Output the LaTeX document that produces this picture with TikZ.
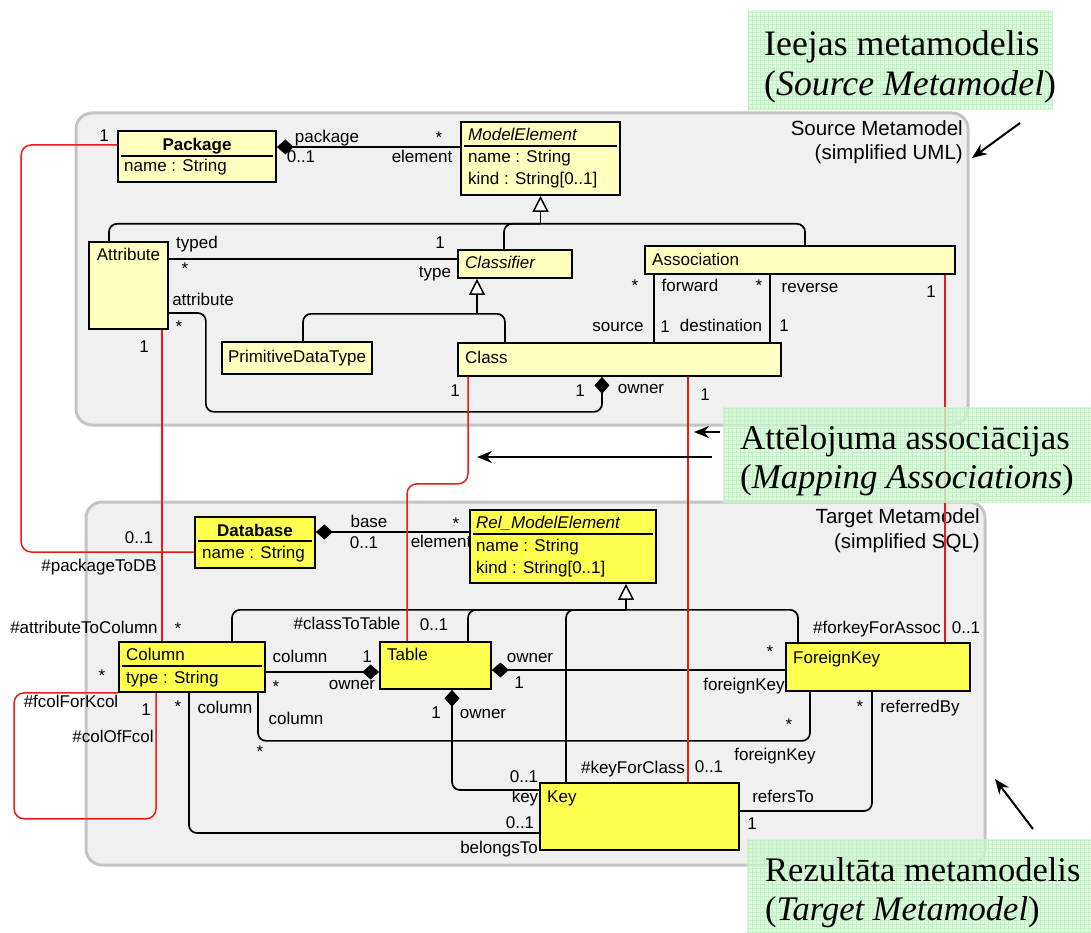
\documentclass[tikz,border=0pt]{standalone}
\usepackage{fontspec}
\setmainfont{Liberation Serif}
\setsansfont{Liberation Sans}
\usepackage{xcolor}
\usepackage{tikz}
\usetikzlibrary{arrows.meta}
\definecolor{panelfill}{HTML}{F0F0F0}
\definecolor{panelline}{HTML}{C4C4C4}
\definecolor{srcyellow}{HTML}{FFFFC0}
\definecolor{tgtyellow}{HTML}{FFFF50}
\definecolor{mapred}{HTML}{F01818}
\definecolor{notegreen}{HTML}{D4FAD4}
\definecolor{notegrid}{HTML}{B8ECB8}
\newcommand{\lblfont}{\sffamily\fontsize{17}{20}\selectfont}
\newcommand{\ttlfont}{\sffamily\fontsize{20.5}{24}\selectfont}
\newcommand{\notefont}{\rmfamily\fontsize{35}{40}\selectfont}
\tikzset{
    panel/.style={rectangle, draw=panelline, fill=panelfill, line width=3pt, rounded corners=16pt},
    srcclass/.style={rectangle, draw, line width=1.7pt, fill=srcyellow, inner sep=0pt},
    tgtclass/.style={srcclass, fill=tgtyellow},
    sepline/.style={line width=1.7pt},
    assoc/.style={line width=1.7pt, rounded corners=8pt},
    comp/.style={assoc, {Diamond[length=17pt, width=15pt]}-},
    gen/.style={assoc, -{Triangle[open, fill=white, length=16pt, width=16pt, line width=1.5pt]}},
    mapline/.style={draw=mapred, line width=1.5pt, rounded corners=10pt},
    lbl/.style={font=\lblfont, inner sep=0pt, anchor=base},
    txt/.style={lbl, anchor=base west},
    ttl/.style={font=\ttlfont, inner sep=0pt, anchor=base east},
    note/.style={rectangle, fill=notegreen, fill opacity=0.75, inner sep=0pt},
    notegridline/.style={draw=notegrid, draw opacity=0.7, line width=0.4pt, step=4pt},
    notetext/.style={font=\notefont, inner sep=0pt, anchor=base west},
    pointer/.style={line width=2pt, -{Stealth[length=15pt, width=12pt]}}
}
\begin{document}
\begin{tikzpicture}[x=1pt, y=-1pt]
    \useasboundingbox (0,0) rectangle (1091,933);

    \node (srcpanel) [panel, minimum width=892pt, minimum height=312pt] at (522,269) {};
    \node (tgtpanel) [panel, minimum width=899pt, minimum height=363pt] at (535.5,683.5) {};

    \node (pkg) [srcclass, minimum width=158pt, minimum height=51pt] at (197,156.5) {};
    \node (me) [srcclass, minimum width=159pt, minimum height=73pt] at (540.5,158.5) {};
    \node (attr) [srcclass, minimum width=79pt, minimum height=87pt] at (128.5,285.5) {};
    \node (clsf) [srcclass, minimum width=114pt, minimum height=28pt] at (515,264) {};
    \node (asn) [srcclass, minimum width=310pt, minimum height=28pt] at (800,260) {};
    \node (cls) [srcclass, minimum width=323pt, minimum height=33pt] at (619.5,359.5) {};
    \node (pdt) [srcclass, minimum width=150pt, minimum height=32pt] at (297,358) {};

    \node (db) [tgtclass, minimum width=120pt, minimum height=51pt] at (255,542.5) {};
    \node (rme) [tgtclass, minimum width=186pt, minimum height=73pt] at (563,546.5) {};
    \node (col) [tgtclass, minimum width=146pt, minimum height=50pt] at (192,667) {};
    \node (tbl) [tgtclass, minimum width=111pt, minimum height=47pt] at (435.5,665.5) {};
    \node (fk) [tgtclass, minimum width=184pt, minimum height=48pt] at (878,667) {};
    \node (key) [tgtclass, minimum width=199pt, minimum height=67pt] at (639.5,816.5) {};

    \draw [sepline] ([xshift=4pt,yshift=-26pt]pkg.north west) -- ([xshift=-4pt,yshift=-26pt]pkg.north east);
    \draw [sepline] ([xshift=4pt,yshift=-25pt]me.north west) -- ([xshift=-4pt,yshift=-25pt]me.north east);
    \draw [sepline] ([xshift=4pt,yshift=-25pt]db.north west) -- ([xshift=-4pt,yshift=-25pt]db.north east);
    \draw [sepline] ([xshift=4pt,yshift=-25pt]rme.north west) -- ([xshift=-4pt,yshift=-25pt]rme.north east);
    \draw [sepline] ([xshift=4pt,yshift=-25pt]col.north west) -- ([xshift=-4pt,yshift=-25pt]col.north east);

    \node (pkg-n) [lbl, font=\lblfont\bfseries] at (197,151) {Package};
    \node (pkg-a) [txt] at (124,172) {name : String};
    \node (me-n) [txt, font=\lblfont\itshape] at (468,141) {ModelElement};
    \node (me-a1) [txt] at (468,163) {name : String};
    \node (me-a2) [txt] at (468,185) {kind : String[0..1]};
    \node (attr-n) [lbl] at (128.5,260) {Attribute};
    \node (clsf-n) [txt, font=\lblfont\itshape] at (465,268) {Classifier};
    \node (asn-n) [txt] at (652,265) {Association};
    \node (cls-n) [txt] at (465,363) {Class};
    \node (pdt-n) [lbl] at (297,362) {PrimitiveDataType};
    \node (db-n) [lbl, font=\lblfont\bfseries] at (255,536) {Database};
    \node (db-a) [txt] at (202,558) {name : String};
    \node (rme-n) [txt, font=\lblfont\itshape] at (476,528) {Rel\_ModelElement};
    \node (rme-a1) [txt] at (476,551) {name : String};
    \node (rme-a2) [txt] at (476,573) {kind : String[0..1]};
    \node (col-n) [txt] at (126,660) {Column};
    \node (col-a) [txt] at (126,683) {type : String};
    \node (tbl-n) [txt] at (387,660) {Table};
    \node (fk-n) [txt] at (793,663) {ForeignKey};
    \node (key-n) [txt] at (547,802) {Key};

    \coordinate (mej) at ([yshift=-28pt]me.south);
    \coordinate (clj) at ([xshift=-38pt,yshift=-35pt]clsf.south);
    \coordinate (rmej) at ([xshift=63pt,yshift=-26pt]rme.south);

    \draw [comp] ([yshift=9.5pt]pkg.east) -- ([yshift=9.5pt]pkg.east -| me.west);
    \draw [gen] (mej) -- (me.south);
    \draw [assoc] ([xshift=-19.5pt]attr.north) |- (mej) -| ([xshift=5pt]asn.north);
    \draw [assoc] ([xshift=-11pt]clsf.north) |- (mej);
    \draw [gen] (clj) -- ([xshift=-38pt]clsf.south);
    \draw [assoc] ([xshift=6pt]pdt.north) |- (clj) -| ([xshift=-114.5pt]cls.north);
    \draw [assoc] ([yshift=5pt]clsf.west) -- ([yshift=5pt]clsf.west -| attr.east);
    \draw [comp] ([xshift=-17.5pt]cls.south) -- ++(0,35) -| ([xshift=37pt,yshift=-27.5pt]attr.east) -- ([yshift=-27.5pt]attr.east);
    \draw [assoc] ([xshift=-146pt]asn.south) -- ([xshift=-146pt]asn.south |- cls.north);
    \draw [assoc] ([xshift=-30pt]asn.south) -- ([xshift=-30pt]asn.south |- cls.north);

    \draw [comp] ([yshift=10.5pt]db.east) -- ([yshift=10.5pt]db.east -| rme.west);
    \draw [gen] (rmej) -- ([xshift=63pt]rme.south);
    \draw [assoc] ([xshift=40pt]col.north) |- (rmej) -| ([xshift=-80pt]fk.north);
    \draw [assoc] ([xshift=32.5pt]tbl.north) |- (rmej);
    \draw [assoc] ([xshift=-73.5pt]key.north) |- (rmej);
    \draw [comp] ([yshift=-6.5pt]tbl.west) -- ([yshift=-6.5pt]tbl.west -| col.east);
    \draw [comp] ([yshift=-4.5pt]tbl.east) -- ([yshift=-4.5pt]tbl.east -| fk.west);
    \draw [comp] ([xshift=16.5pt]tbl.south) |- ([yshift=26.5pt]key.west);
    \draw [assoc] ([xshift=66pt]col.south) -- ++(0,48) -| ([xshift=-68pt]fk.south);
    \draw [assoc] ([xshift=-3pt]col.south) |- ([yshift=-16.5pt]key.west);
    \draw [assoc] ([yshift=5.5pt]key.east) -| ([xshift=-6pt]fk.south);

    \node (l-pkg-elem-a) [lbl] at (327,143) {package};
    \node (l-pkg-elem-b) [lbl] at (301,163) {0..1};
    \node (l-pkg-elem-c) [lbl] at (439,144) {*};
    \node (l-pkg-elem-d) [lbl] at (422,163) {element};
    \node (l-typed-a) [lbl] at (197,248) {typed};
    \node (l-typed-b) [lbl] at (185,274) {*};
    \node (l-typed-c) [lbl] at (440,248) {1};
    \node (l-typed-d) [lbl] at (435,277) {type};
    \node (l-attrib-a) [lbl] at (203,305) {attribute};
    \node (l-attrib-b) [lbl] at (179,332) {*};
    \node (l-attrib-c) [lbl] at (580,396) {1};
    \node (l-attrib-d) [lbl] at (641,393) {owner};
    \node (l-fwd-a) [lbl] at (635,291) {*};
    \node (l-fwd-b) [lbl] at (690,291) {forward};
    \node (l-fwd-c) [lbl] at (618,331) {source};
    \node (l-fwd-d) [lbl] at (665,332) {1};
    \node (l-rev-a) [lbl] at (759,291) {*};
    \node (l-rev-b) [lbl] at (810,292) {reverse};
    \node (l-rev-c) [lbl] at (721,331) {destination};
    \node (l-rev-d) [lbl] at (784,331) {1};

    \node (l-base-a) [lbl] at (369,527) {base};
    \node (l-base-b) [lbl] at (364,548) {0..1};
    \node (l-base-c) [lbl] at (456,529) {*};
    \node (l-base-d) [lbl] at (441,547) {element};
    \node (l-colown-a) [lbl] at (300,662) {column};
    \node (l-colown-b) [lbl] at (276,692) {*};
    \node (l-colown-c) [lbl] at (367,662) {1};
    \node (l-colown-d) [lbl] at (352,689) {owner};
    \node (l-fkown-a) [lbl] at (530,662) {owner};
    \node (l-fkown-b) [lbl] at (519,688) {1};
    \node (l-fkown-c) [lbl] at (770,657) {*};
    \node (l-fkown-d) [lbl] at (744,690) {foreignKey};
    \node (l-keyown-a) [lbl] at (436,718) {1};
    \node (l-keyown-b) [lbl] at (483,718) {owner};
    \node (l-keyown-c) [lbl] at (524,782) {0..1};
    \node (l-keyown-d) [lbl] at (525,802) {key};
    \node (l-colfk-a) [lbl] at (296,724) {column};
    \node (l-colfk-b) [lbl] at (260,757) {*};
    \node (l-colfk-c) [lbl] at (789,730) {*};
    \node (l-colfk-d) [lbl] at (775,760) {foreignKey};
    \node (l-colkey-a) [lbl] at (178,712) {*};
    \node (l-colkey-b) [lbl] at (225,713) {column};
    \node (l-colkey-c) [lbl] at (520,828) {0..1};
    \node (l-colkey-d) [lbl] at (499,853) {belongsTo};
    \node (l-ref-a) [lbl] at (783,802) {refersTo};
    \node (l-ref-b) [lbl] at (752,829) {1};
    \node (l-ref-c) [lbl] at (860,712) {*};
    \node (l-ref-d) [lbl] at (920,712) {referredBy};

    \node (l-p2db-a) [lbl] at (104,142) {1};
    \node (l-p2db-b) [lbl] at (139,543) {0..1};
    \node (l-p2db-c) [lbl] at (99,571) {\#packageToDB};
    \node (l-a2c-a) [lbl] at (144,352) {1};
    \node (l-a2c-b) [lbl] at (178,634) {*};
    \node (l-a2c-c) [lbl] at (84,633) {\#attributeToColumn};
    \node (l-c2t-a) [lbl] at (455,396) {1};
    \node (l-c2t-b) [lbl] at (434,630) {0..1};
    \node (l-c2t-c) [lbl] at (347,629) {\#classToTable};
    \node (l-k4c-a) [lbl] at (705,400) {1};
    \node (l-k4c-b) [lbl] at (709,772) {0..1};
    \node (l-k4c-c) [lbl] at (633,773) {\#keyForClass};
    \node (l-f4a-a) [lbl] at (931,297) {1};
    \node (l-f4a-b) [lbl] at (966,633) {0..1};
    \node (l-f4a-c) [lbl] at (877,633) {\#forkeyForAssoc};
    \node (l-fcol-a) [lbl] at (102,681) {*};
    \node (l-fcol-b) [lbl] at (71,707) {\#fcolForKcol};
    \node (l-fcol-c) [lbl] at (146,715) {1};
    \node (l-fcol-d) [lbl] at (113,742) {\#colOfFcol};

    \node (src-t1) [ttl] at (963,136) {Source Metamodel};
    \node (src-t2) [ttl] at (963,160) {(simplified UML)};
    \node (tgt-t1) [ttl] at (980,523) {Target Metamodel};
    \node (tgt-t2) [ttl] at (980,548) {(simplified SQL)};

    \draw [mapline] ([yshift=11.5pt]pkg.west) -- ++(-96,0) |- ([yshift=-9.5pt]db.west);
    \draw [mapline] ([xshift=33.5pt]attr.south) -- ([xshift=33.5pt]attr.south |- col.north);
    \draw [mapline] ([xshift=-151.5pt]cls.south) -- ++(0,107) -| ([xshift=-28.5pt]tbl.north);
    \draw [mapline] ([xshift=68.5pt]cls.south) -- ([xshift=68.5pt]cls.south |- key.north);
    \draw [mapline] ([xshift=145pt]asn.south) -- ([xshift=145pt]asn.south |- fk.north);
    \draw [mapline] (col.south west) -- ++(-104,0) -- ++(0,126) -| ([xshift=-36pt]col.south);

    \node (srcnote) [note, minimum width=304pt, minimum height=100pt] at (900,60) {};
    \node (mapnote) [note, minimum width=368pt, minimum height=96pt] at (907,455) {};
    \node (tgtnote) [note, minimum width=344pt, minimum height=94pt] at (919,886) {};
    \draw [notegridline] (srcnote.south west) grid (srcnote.north east);
    \draw [notegridline] (mapnote.south west) grid (mapnote.north east);
    \draw [notegridline] (tgtnote.south west) grid (tgtnote.north east);
    \node (srcnote-a) [notetext, font=\notefont\fontsize{35.8}{40}\selectfont] at (764,56) {Ieejas metamodelis};
    \node (srcnote-b) [notetext, font=\notefont\fontsize{35.8}{40}\selectfont] at (764,96) {(\textit{Source Metamodel})};
    \node (mapnote-a) [notetext, font=\notefont\fontsize{34.8}{40}\selectfont] at (740,449) {Attēlojuma associācijas};
    \node (mapnote-b) [notetext, font=\notefont\fontsize{34.8}{40}\selectfont] at (740,488) {(\textit{Mapping Associations})};
    \node (tgtnote-a) [notetext, font=\notefont\fontsize{34.5}{40}\selectfont] at (765,881) {Rezultāta metamodelis};
    \node (tgtnote-b) [notetext, font=\notefont\fontsize{34.5}{40}\selectfont] at (765,920) {(\textit{Target Metamodel})};

    \coordinate (srctail) at (1020,123);
    \coordinate (srchead) at (972,158);
    \coordinate (maptail1) at (720,432);
    \coordinate (maphead1) at (694,432);
    \coordinate (maptail2) at (712,457);
    \coordinate (maphead2) at (477,457);
    \coordinate (tgttail) at (1033,829);
    \coordinate (tgthead) at (995,779);
    \draw [pointer] (srctail) -- (srchead);
    \draw [pointer] (maptail1) -- (maphead1);
    \draw [pointer] (maptail2) -- (maphead2);
    \draw [pointer] (tgttail) -- (tgthead);
\end{tikzpicture}
\end{document}
